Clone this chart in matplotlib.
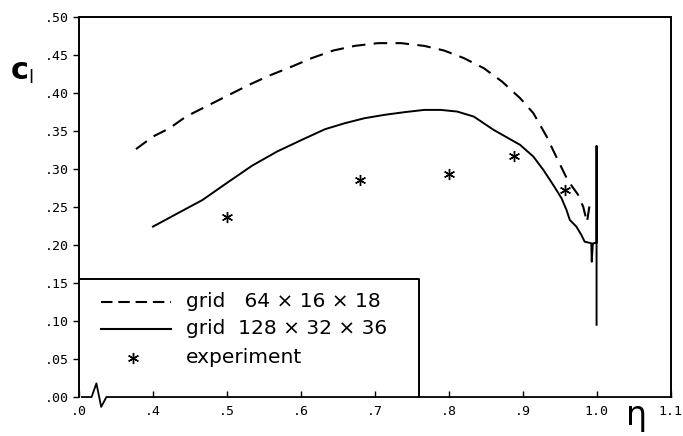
import matplotlib
matplotlib.use("Agg")
import matplotlib.pyplot as plt

# ---- data ----
eta_coarse = [0.377, 0.400, 0.4224, 0.4447, 0.4761, 0.503, 0.5298, 0.5566, 0.5879,
              0.6148, 0.6439, 0.6729, 0.7043, 0.7356, 0.7669, 0.7937, 0.8206,
              0.8474, 0.8721, 0.8966, 0.9145, 0.9325, 0.941, 0.953, 0.961,
              0.975, 0.982, 0.987, 0.991]
cl_coarse = [0.326, 0.3425, 0.3535, 0.3688, 0.3842, 0.3974, 0.4105, 0.4224, 0.4346,
             0.4457, 0.4557, 0.4618, 0.4654, 0.4654, 0.4618, 0.4557, 0.4457,
             0.4325, 0.4149, 0.3930, 0.3733, 0.3425, 0.325, 0.301, 0.285,
             0.266, 0.250, 0.230, 0.255]

eta_fine = [0.400, 0.4336, 0.4671, 0.5007, 0.5342, 0.5678, 0.6013, 0.6327, 0.6595,
            0.6863, 0.7132, 0.7400, 0.7669, 0.7893, 0.8116, 0.8340, 0.8608,
            0.8966, 0.9145, 0.9280, 0.9414, 0.9526, 0.9593, 0.9638, 0.9727,
            0.9794, 0.9839, 0.9929, 0.9935, 0.995, 1.0, 1.0, 1.0]
cl_fine = [0.2241, 0.2417, 0.2592, 0.2820, 0.3043, 0.3228, 0.3382, 0.3522, 0.3601,
           0.3667, 0.3711, 0.3746, 0.3776, 0.3776, 0.3754, 0.3688, 0.3513,
           0.3316, 0.3162, 0.2987, 0.2789, 0.2614, 0.2461, 0.2329, 0.2241,
           0.2132, 0.2043, 0.2022, 0.178, 0.202, 0.203, 0.330, 0.095]

eta_exp = [0.500, 0.680, 0.800, 0.889, 0.957]
cl_exp = [0.237, 0.286, 0.293, 0.317, 0.272]

x_ticks = [0.3, 0.4, 0.5, 0.6, 0.7, 0.8, 0.9, 1.0, 1.1]
x_ticklabels = [".0", ".4", ".5", ".6", ".7", ".8", ".9", "1.0", "1.1"]
y_ticks = [0.0, 0.05, 0.10, 0.15, 0.20, 0.25, 0.30, 0.35, 0.40, 0.45, 0.50]
y_ticklabels = [".00", ".05", ".10", ".15", ".20", ".25", ".30", ".35", ".40", ".45", ".50"]

legend_labels = ["grid   64 \u00d7 16 \u00d7 18", "grid  128 \u00d7 32 \u00d7 36", "experiment"]

# ---- figure ----
fig = plt.figure(figsize=(6.83, 4.36), dpi=100)
ax = fig.add_axes([0.1157, 0.0894, 0.866, 0.872])
x0, x1 = 0.305, 1.1
ax.set_xlim(x0, x1)
ax.set_ylim(0.0, 0.50)

ax.plot(eta_coarse, cl_coarse, color="black", lw=1.5, linestyle=(0, (6.5, 4)))
ax.plot(eta_fine, cl_fine, color="black", lw=1.4)
ax.plot(eta_exp, cl_exp, linestyle="none", marker=(6, 2, 0), markersize=8,
        color="black", markeredgewidth=1.0)

# ticks
tick_font = dict(family="DejaVu Sans Mono", size=9.5)
ax.set_xticks(x_ticks)
ax.set_xticklabels(x_ticklabels, **tick_font)
ax.set_yticks(y_ticks)
ax.set_yticklabels(y_ticklabels, **tick_font)
ax.tick_params(axis="x", direction="in", length=4, width=1, pad=6)
ax.tick_params(axis="y", direction="out", length=4, width=1, pad=3)
for s in ax.spines.values():
    s.set_linewidth(1.4)
ax.spines["bottom"].set_visible(False)

# bottom axis line with break symbol
brk_x = [x0 - 0.001, 0.317, 0.3235, 0.330, 0.337, x1 + 0.001]
brk_y = [0.0, 0.0, 0.018, -0.013, 0.0, 0.0]
ax.plot(brk_x, brk_y, color="black", lw=1.3, clip_on=False, zorder=5)

# legend box (top and right edges; left/bottom are the axes)
leg_right, leg_top = 0.76, 0.155
ax.plot([x0 - 0.002, leg_right, leg_right], [leg_top, leg_top, 0.0], color="black", lw=1.4,
        clip_on=False, zorder=4)
leg_line_x = [0.330, 0.424]
leg_y = [0.125, 0.0895, 0.0515]
ax.plot(leg_line_x, [leg_y[0]] * 2, color="black", lw=1.5, linestyle=(0, (5.5, 2.8)), zorder=4)
ax.plot(leg_line_x, [leg_y[1]] * 2, color="black", lw=1.5, zorder=4)
ax.plot([0.373], [leg_y[2]], marker=(6, 2, 0), markersize=8, color="black",
        markeredgewidth=1.0, zorder=4)
for yy, lab in zip(leg_y, legend_labels):
    ax.text(0.4443, yy, lab, fontsize=14.5, family="DejaVu Sans", va="center",
            ha="left", zorder=4)

# axis labels
fig.text(0.016, 0.838, "c", fontsize=22, fontweight="bold", va="center", ha="left")
fig.text(0.042, 0.822, "l", fontsize=13, va="center", ha="left")
fig.text(0.932, 0.047, "\u03b7", fontsize=24, va="center", ha="center")

fig.savefig("out.png", dpi=100)
